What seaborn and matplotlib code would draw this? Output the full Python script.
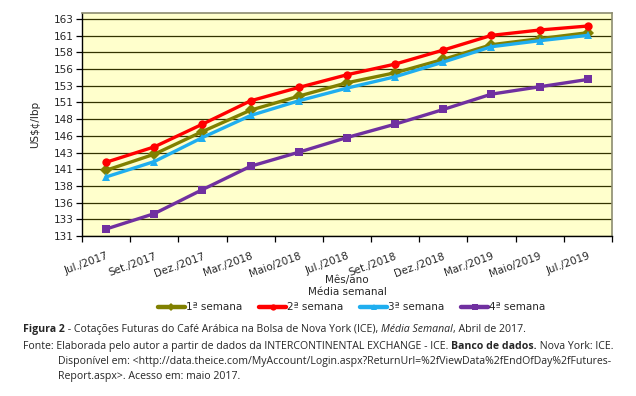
import numpy as np
import pandas as pd
import matplotlib
matplotlib.use("Agg")
import matplotlib.pyplot as plt
from matplotlib.ticker import FixedLocator, FuncFormatter
import seaborn as sns

# Dados (US$¢/lbp, média semanal)
meses = ["Jul./2017", "Set./2017", "Dez./2017", "Mar./2018", "Maio/2018", "Jul./2018",
         "Set./2018", "Dez./2018", "Mar./2019", "Maio/2019", "Jul./2019"]
semana1 = [140.6, 143.0, 146.4, 149.6, 151.7, 153.7, 155.2, 157.2, 159.4, 160.3, 161.2]
semana2 = [141.8, 144.1, 147.5, 151.0, 153.0, 154.9, 156.5, 158.6, 160.8, 161.6, 162.2]
semana3 = [139.6, 141.9, 145.5, 148.8, 151.0, 152.9, 154.6, 156.8, 159.1, 160.0, 160.8]
semana4 = [131.8, 134.1, 137.7, 141.2, 143.3, 145.5, 147.5, 149.7, 152.0, 153.1, 154.2]
series = ["1ª semana", "2ª semana", "3ª semana", "4ª semana"]
cores = ["#808000", "#FF0000", "#1FAEEF", "#7030A0"]
marcadores = ["D", "o", "^", "s"]

df = pd.DataFrame({
    "mes": meses * 4,
    "valor": semana1 + semana2 + semana3 + semana4,
    "semana": np.repeat(series, len(meses)),
})

sns.set_style("white")
plt.rcParams["font.family"] = ["DejaVu Sans"]

fig = plt.figure(figsize=(6.36, 3.96), dpi=100)
ax = fig.add_axes([0.129, 0.404, 0.833, 0.564])
ax.set_facecolor("#FFFFCC")

sns.lineplot(data=df, x="mes", y="valor", hue="semana", style="semana",
             palette=cores, markers=marcadores, dashes=False, sort=False,
             linewidth=2.4, markersize=6, markeredgewidth=0, ax=ax)

# eixo Y: 130,75 a 163,25 em passos de 2,5 (rótulos arredondados)
yt = np.arange(130.75, 163.3, 2.5)
ax.set_ylim(130.75, 164.2)
ax.yaxis.set_major_locator(FixedLocator(yt))
ax.yaxis.set_major_formatter(FuncFormatter(lambda v, p: f"{int(np.floor(v + 0.5))}"))
ax.grid(axis="y", color="#333300", linewidth=0.9)
ax.grid(axis="x", visible=False)

ax.set_xlim(-0.5, len(meses) - 0.5)
ax.set_xticks(range(len(meses)))
ax.set_xticklabels(meses, rotation=20, ha="right", rotation_mode="anchor", fontsize=7.5)
ax.tick_params(axis="x", which="major", length=0, pad=11)
ax.set_xticks(np.arange(-0.5, len(meses), 1.0), minor=True)
ax.tick_params(axis="x", which="minor", length=4, width=0.9, color="black", direction="out", bottom=True)
ax.tick_params(axis="y", length=4, width=0.9, color="black", direction="out", left=True, labelsize=7.5, pad=2)

for s in ["left", "bottom"]:
    ax.spines[s].set_color("black")
    ax.spines[s].set_linewidth(1.0)
for s in ["top", "right"]:
    ax.spines[s].set_color("#8C8C70")
    ax.spines[s].set_linewidth(1.2)

ax.set_xlabel("")
ax.set_ylabel("US$¢/lbp", fontsize=7.5, labelpad=10)
fig.text(0.546, 0.279, "Mês/ano\nMédia semanal", ha="center", va="center",
         fontsize=7.5, linespacing=1.25)

ax.get_legend().remove()
h, l = ax.get_legend_handles_labels()
for hd in h:
    hd.set_markersize(4.5)
    hd.set_linewidth(3.2)
fig.legend(h, l, loc="center", bbox_to_anchor=(0.553, 0.224), ncol=4, frameon=False,
           fontsize=7.5, handlelength=2.6, handletextpad=0.1, columnspacing=1.6)

# legenda da figura (texto com trechos em negrito / itálico)
renderer = fig.canvas.get_renderer()
cap = dict(fontsize=7.55, family=["Open Sans", "DejaVu Sans"], va="center", ha="left")


def linha(x0, y, partes):
    x = x0
    for txt, estilo in partes:
        kw = dict(cap)
        if estilo == "b":
            kw["fontweight"] = "bold"
        elif estilo == "i":
            kw["fontstyle"] = "italic"
        t = fig.text(x, y, txt, **kw)
        bb = t.get_window_extent(renderer)
        x += bb.width / fig.bbox.width


linha(0.036, 0.167, [("Figura 2", "b"), (" - Cotações Futuras do Café Arábica na Bolsa de Nova York (ICE), ", ""),
                     ("Média Semanal", "i"), (", Abril de 2017.", "")])
linha(0.036, 0.126, [("Fonte: Elaborada pelo autor a partir de dados da INTERCONTINENTAL EXCHANGE - ICE. ", ""),
                     ("Banco de dados.", "b"), (" Nova York: ICE.", "")])
linha(0.091, 0.086, [("Disponível em: <http://data.theice.com/MyAccount/Login.aspx?ReturnUrl=%2fViewData%2fEndOfDay%2fFutures-", "")])
linha(0.091, 0.048, [("Report.aspx>. Acesso em: maio 2017.", "")])

fig.savefig("out.png", dpi=100)
